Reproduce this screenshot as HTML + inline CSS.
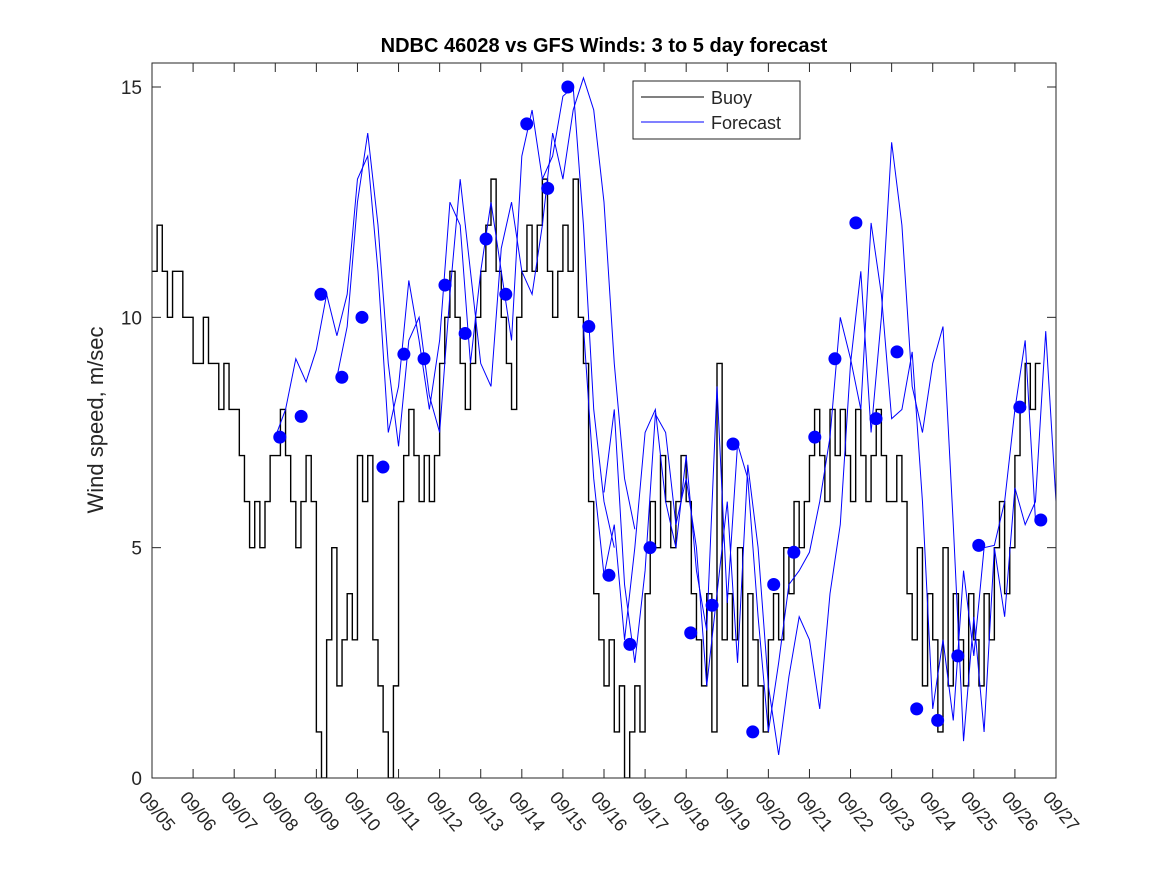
<!DOCTYPE html>
<html><head><meta charset="utf-8"><style>
body{margin:0;background:#fff;}
svg{display:block;font-family:"Liberation Sans",sans-serif;}
</style></head><body>
<svg id="chart" width="1167" height="875">
<defs><clipPath id="clip"><rect x="152" y="63" width="904" height="715"/></clipPath></defs>
<rect x="0" y="0" width="1167" height="875" fill="#fff"/>
<text x="604" y="52" text-anchor="middle" font-size="20" font-weight="bold">NDBC 46028 vs GFS Winds: 3 to 5 day forecast</text>
<text transform="translate(103,420) rotate(-90)" text-anchor="middle" font-size="22" fill="#262626">Wind speed, m/sec</text>
<g id="plot" clip-path="url(#clip)"></g>
<g id="axes"></g>
<g>
<rect x="633" y="81" width="167" height="58" fill="#fff" stroke="#262626" stroke-width="1"/>
<line x1="641" y1="97" x2="704" y2="97" stroke="#000" stroke-width="1"/>
<text x="711" y="104" font-size="18" fill="#262626">Buoy</text>
<line x1="641" y1="122" x2="704" y2="122" stroke="#0000ff" stroke-width="1"/>
<text x="711" y="129" font-size="18" fill="#262626">Forecast</text>
</g>
</svg>
<script>
const xTickLabels=["09/05","09/06","09/07","09/08","09/09","09/10","09/11","09/12","09/13","09/14","09/15","09/16","09/17","09/18","09/19","09/20","09/21","09/22","09/23","09/24","09/25","09/26","09/27"];
const yTicks=[0,5,10,15];
const buoy=[11,12,11,10,11,11,10,10, 9,9,10,9,9,8,9,8, 8,7,6,5,6,5,6,7, 7,8,7,6,5,6,7,6,
1,0,3,5,2,3,4,3, 7,6,7,3,2,1,0,2, 6,7,8,7,6,7,6,7, 9,10,11,10,9,8,9,10, 11,12,13,11,10,9,8,10,
11,12,11,12,13,11,10,11, 12,11,13,10,9,6,4,3, 2,3,1,2,0,1,2,1, 4,6,5,7,6,5,6,7, 6,4,3,2,4,1,9,3,
4,3,5,2,4,3,2,1, 3,4,3,5,4,6,5,6, 7,8,7,6,8,7,8,7, 6,8,7,6,7,8,7,6, 6,7,6,4,3,5,2,4,
3,1,5,2,4,3,2,4, 3,2,4,3,5,6,4,5, 7,8,9,8,9];
const run1Start=3.0;
const run1=[7.4,8.0,9.1,8.6,9.3,10.5,9.6,10.5,13.0,13.5,11.0,7.5,8.5,10.8,9.5,8.0,9.5,12.5,12.0,9.0,11.0,12.5,11.0,9.5,13.5,14.5,13.0,13.5,14.8,15.0,12.0,8.0,6.0,5.0];
const run2Start=4.5;
const run2=[8.7,9.8,12.5,14.0,12.0,9.0,7.2,9.5,10.0,8.3,7.5,10.5,13.0,11.0,9.0,8.5,11.5,12.5,11.0,10.5,12.0,14.0,13.0,14.5,15.2,14.5,12.5,9.0,6.5,5.4];
const run3Start=10.5;
const run3=[9.8,6.5,4.4,5.5,3.0,5.0,7.5,8.0,6.0,5.0,7.0,4.5,3.2,8.5,3.8,7.25,6.5,3.5,1.0,2.5,4.2,4.5,4.9,6.0,7.4,10.0,9.1,8.0,12.05,10.5,7.8,8.0,9.25,6.0,1.5,3.0,1.25,4.5,2.65,5.0,5.05,6.0,8.0,9.5,5.6];
const run4Start=11.0;
const run4=[6.2,8.0,4.2,2.5,4.5,7.9,7.5,5.5,6.5,5.0,2.0,4.0,6.0,2.5,6.8,5.0,2.0,0.5,2.2,3.5,3.0,1.5,4.0,5.5,9.0,11.0,7.5,10.0,13.8,12.0,8.5,7.5,9.0,9.8,5.5,0.8,3.5,1.0,5.0,3.5,6.3,5.5,6.0,9.7,6.0,1.2,2.0,3.0];
const dotDays=[3.11,3.63,4.11,4.62,5.11,5.62,6.13,6.62,7.13,7.62,8.13,8.61,9.12,9.63,10.12,10.63,11.12,11.63,12.12,13.11,13.63,14.14,14.62,15.13,15.62,16.13,16.62,17.13,17.62,18.13,18.61,19.12,19.61,20.12,21.12,21.63];
const dotVals=[7.4,7.85,10.5,8.7,10.0,6.75,9.2,9.1,10.7,9.65,11.7,10.5,14.2,12.8,15.0,9.8,4.4,2.9,5.0,3.15,3.75,7.25,1.0,4.2,4.9,7.4,9.1,12.05,7.8,9.25,1.5,1.25,2.65,5.05,8.05,5.6];

const L=152,R=1056,T=63,B=778;
const X=d=>L+(R-L)*d/22;
const Y=v=>B-(B-87)*v/15;
const NS="http://www.w3.org/2000/svg";
const plot=document.getElementById('plot'), axes=document.getElementById('axes');
function mk(tag,attrs,parent){const e=document.createElementNS(NS,tag);for(const k in attrs)e.setAttribute(k,attrs[k]);parent.appendChild(e);return e;}

let d="";
buoy.forEach((v,i)=>{const x=X(i/8),y=Y(v);if(i===0)d+=`M${x},${y}`;else d+=`V${y}`;d+=`H${X((i+1)/8)}`;});
const bp=mk('path',{d:d,fill:'none',stroke:'#000','stroke-width':1.4},plot);



function runPath(start,vals,name){
  const p=mk('path',{d:vals.map((v,i)=>(i?'L':'M')+X(start+i/4)+','+Y(v)).join(''),fill:'none',stroke:'#0000ff','stroke-width':1},plot);
  
  
}
runPath(run1Start,run1,'forecast-run-1');
runPath(run2Start,run2,'forecast-run-2');
runPath(run3Start,run3,'forecast-run-3');
runPath(run4Start,run4,'forecast-run-4');

dotDays.forEach((dd,i)=>{
  const c=mk('circle',{cx:X(dd),cy:Y(dotVals[i]),r:6.5,fill:'#0000ff'},plot);
  
  
});

const box=mk('rect',{x:L,y:T,width:R-L,height:B-T,fill:'none',stroke:'#262626','stroke-width':1},axes);


xTickLabels.forEach((lab,i)=>{
  const x=X(i);
  mk('line',{x1:x,y1:B,x2:x,y2:B-9,stroke:'#262626'},axes);
  mk('line',{x1:x,y1:T,x2:x,y2:T+9,stroke:'#262626'},axes);
  const t=mk('text',{x:x-14,y:B+20,'font-size':18,fill:'#262626',transform:`rotate(50 ${x-14} ${B+20})`},axes);
  t.textContent=lab;
  
  
});
yTicks.forEach(v=>{
  const y=Y(v);
  mk('line',{x1:L,y1:y,x2:L+9,y2:y,stroke:'#262626'},axes);
  mk('line',{x1:R,y1:y,x2:R-9,y2:y,stroke:'#262626'},axes);
  const t=mk('text',{x:L-10,y:y+7,'font-size':19,fill:'#262626','text-anchor':'end'},axes);
  t.textContent=v;
  
  
});
</script>
</body></html>
